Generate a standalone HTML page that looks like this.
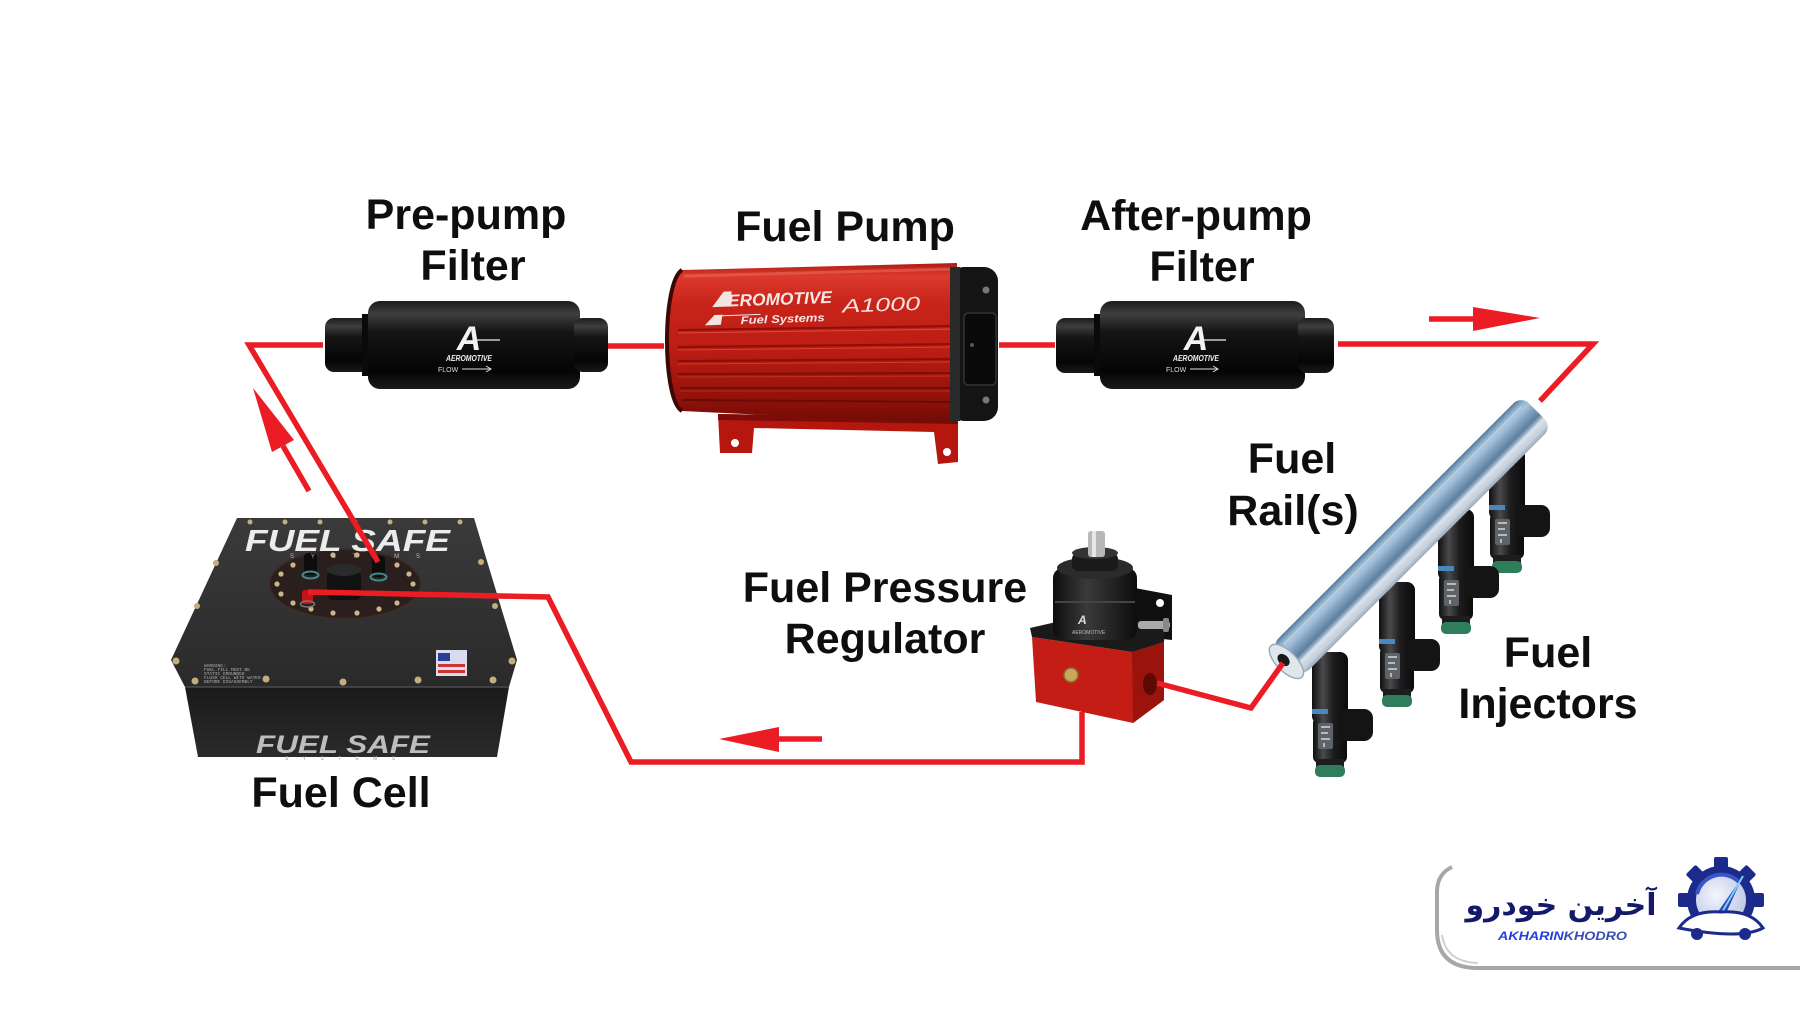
<!DOCTYPE html>
<html>
<head>
<meta charset="utf-8">
<style>
html,body{margin:0;padding:0;background:#fff;}
svg{display:block;}
.lbl{font-family:"Liberation Sans",Arial,sans-serif;font-weight:bold;font-size:43px;fill:#0e0e0e;text-anchor:middle;}
</style>
</head>
<body>
<svg width="1800" height="1013" viewBox="0 0 1800 1013" xmlns="http://www.w3.org/2000/svg">
<defs>
  <linearGradient id="blk" x1="0" y1="0" x2="0" y2="1">
    <stop offset="0" stop-color="#1c1c1c"/>
    <stop offset="0.15" stop-color="#3e3e3e"/>
    <stop offset="0.35" stop-color="#151515"/>
    <stop offset="0.8" stop-color="#050505"/>
    <stop offset="1" stop-color="#1a1a1a"/>
  </linearGradient>
  <linearGradient id="redB" x1="0" y1="0" x2="0" y2="1">
    <stop offset="0" stop-color="#b01a12"/>
    <stop offset="0.08" stop-color="#dc3a2c"/>
    <stop offset="0.25" stop-color="#c9241a"/>
    <stop offset="0.55" stop-color="#bb1c13"/>
    <stop offset="0.85" stop-color="#90110a"/>
    <stop offset="1" stop-color="#6e0b07"/>
  </linearGradient>
  <linearGradient id="tankTop" x1="0" y1="0" x2="0" y2="1">
    <stop offset="0" stop-color="#3a3a3a"/>
    <stop offset="1" stop-color="#2a2a2a"/>
  </linearGradient>
  <linearGradient id="tankFront" x1="0" y1="0" x2="0" y2="1">
    <stop offset="0" stop-color="#1a1a1a"/>
    <stop offset="1" stop-color="#2b2b2b"/>
  </linearGradient>
  <linearGradient id="injG" x1="0" y1="0" x2="1" y2="0">
    <stop offset="0" stop-color="#0f0f0f"/>
    <stop offset="0.3" stop-color="#4a4a4a"/>
    <stop offset="0.6" stop-color="#1c1c1c"/>
    <stop offset="1" stop-color="#0b0b0b"/>
  </linearGradient>
  <linearGradient id="railG" x1="0" y1="0" x2="0" y2="1">
    <stop offset="0" stop-color="#56779a"/>
    <stop offset="0.12" stop-color="#8fb0cc"/>
    <stop offset="0.25" stop-color="#a9c4dc"/>
    <stop offset="0.42" stop-color="#7f9fbf"/>
    <stop offset="0.6" stop-color="#5f7f9f"/>
    <stop offset="0.68" stop-color="#9fb4c8"/>
    <stop offset="0.73" stop-color="#dce4eb"/>
    <stop offset="0.9" stop-color="#c3cfda"/>
    <stop offset="1" stop-color="#94a8ba"/>
  </linearGradient>
  <linearGradient id="regTop" x1="0" y1="0" x2="1" y2="0">
    <stop offset="0" stop-color="#0d0d0d"/>
    <stop offset="0.4" stop-color="#3a3a3a"/>
    <stop offset="1" stop-color="#0d0d0d"/>
  </linearGradient>
  <radialGradient id="gaugeG" cx="0.4" cy="0.4" r="0.7">
    <stop offset="0" stop-color="#f4f6fc"/>
    <stop offset="1" stop-color="#b9c4e6"/>
  </radialGradient>
</defs>

<rect width="1800" height="1013" fill="#fff"/>

<!-- ========== LABELS ========== -->
<text class="lbl" x="466" y="229">Pre-pump</text>
<text class="lbl" x="473" y="280">Filter</text>
<text class="lbl" x="845" y="241">Fuel Pump</text>
<text class="lbl" x="1196" y="230">After-pump</text>
<text class="lbl" x="1202" y="281">Filter</text>
<text class="lbl" x="1292" y="473">Fuel</text>
<text class="lbl" x="1293" y="525">Rail(s)</text>
<text class="lbl" x="885" y="602">Fuel Pressure</text>
<text class="lbl" x="885" y="653">Regulator</text>
<text class="lbl" x="1548" y="667">Fuel</text>
<text class="lbl" x="1548" y="718">Injectors</text>
<text class="lbl" x="341" y="807">Fuel Cell</text>

<!-- ========== PRE-PUMP FILTER ========== -->
<g>
  <rect x="325" y="318" width="50" height="54" rx="9" fill="url(#blk)"/>
  <rect x="362" y="314" width="10" height="62" fill="#0a0a0a"/>
  <rect x="368" y="301" width="212" height="88" rx="12" fill="url(#blk)"/>
  <rect x="574" y="318" width="34" height="54" rx="9" fill="url(#blk)"/>
  <text x="469" y="350" font-family="Liberation Sans,Arial,sans-serif" font-weight="bold" font-style="italic" font-size="34" fill="#f2f2f2" text-anchor="middle">A</text>
  <line x1="474" y1="340" x2="500" y2="340" stroke="#eee" stroke-width="1.2"/>
  <text x="469" y="361" font-family="Liberation Sans,Arial,sans-serif" font-weight="bold" font-style="italic" font-size="8" fill="#f0f0f0" text-anchor="middle" textLength="46" lengthAdjust="spacingAndGlyphs">AEROMOTIVE</text>
  <text x="438" y="372" font-family="Liberation Sans,Arial,sans-serif" font-size="7" fill="#ddd">FLOW</text>
  <line x1="462" y1="369" x2="490" y2="369" stroke="#ddd" stroke-width="1"/>
  <path d="M486,366 L491,369 L486,372" fill="none" stroke="#ddd" stroke-width="1"/>
</g>

<!-- ========== AFTER-PUMP FILTER ========== -->
<g>
  <rect x="1056" y="318" width="50" height="55" rx="9" fill="url(#blk)"/>
  <rect x="1094" y="314" width="10" height="62" fill="#0a0a0a"/>
  <rect x="1100" y="301" width="205" height="88" rx="12" fill="url(#blk)"/>
  <rect x="1298" y="318" width="36" height="55" rx="9" fill="url(#blk)"/>
  <text x="1196" y="350" font-family="Liberation Sans,Arial,sans-serif" font-weight="bold" font-style="italic" font-size="34" fill="#f2f2f2" text-anchor="middle">A</text>
  <line x1="1201" y1="340" x2="1226" y2="340" stroke="#eee" stroke-width="1.2"/>
  <text x="1196" y="361" font-family="Liberation Sans,Arial,sans-serif" font-weight="bold" font-style="italic" font-size="8" fill="#f0f0f0" text-anchor="middle" textLength="46" lengthAdjust="spacingAndGlyphs">AEROMOTIVE</text>
  <text x="1166" y="372" font-family="Liberation Sans,Arial,sans-serif" font-size="7" fill="#ddd">FLOW</text>
  <line x1="1190" y1="369" x2="1217" y2="369" stroke="#ddd" stroke-width="1"/>
  <path d="M1213,366 L1218,369 L1213,372" fill="none" stroke="#ddd" stroke-width="1"/>
</g>

<!-- ========== FUEL PUMP ========== -->
<g>
  <path d="M718,414 L958,418 L958,462 L938,464 L934,432 L754,428 L752,453 L720,453 Z" fill="#b5170f"/>
  <path d="M718,414 L958,418 L958,424 L718,420 Z" fill="#7d0c07"/>
  <circle cx="735" cy="443" r="4" fill="#fff"/>
  <circle cx="947" cy="452" r="4" fill="#fff"/>
  <path d="M682,270 L957,263 L957,424 L682,411 C662,400 662,282 682,270 Z" fill="url(#redB)"/>
  <path d="M682,270 C662,282 662,400 682,411" fill="none" stroke="#3a0906" stroke-width="4"/>
  <g stroke-width="2" fill="none">
    <path d="M678,330 L957,326" stroke="#8c0f09"/>
    <path d="M678,333 L957,329" stroke="#e0483a" stroke-width="1"/>
    <path d="M678,347 L957,344" stroke="#8c0f09"/>
    <path d="M678,350 L957,347" stroke="#d8402f" stroke-width="1"/>
    <path d="M678,361 L957,359" stroke="#850e08"/>
    <path d="M678,364 L957,362" stroke="#cf3a2a" stroke-width="1"/>
    <path d="M678,374 L957,373" stroke="#7e0d08"/>
    <path d="M678,377 L957,376" stroke="#c3301f" stroke-width="1"/>
    <path d="M680,388 L957,388" stroke="#740b07"/>
    <path d="M680,391 L957,391" stroke="#b42a1c" stroke-width="1"/>
    <path d="M682,400 L957,402" stroke="#680a06"/>
  </g>
  <path d="M684,276 L955,269" stroke="#e9685a" stroke-width="3" opacity="0.6"/>
  <rect x="950" y="267" width="48" height="154" rx="14" fill="#141414"/>
  <rect x="950" y="267" width="10" height="154" fill="#2a2a2a"/>
  <rect x="964" y="313" width="32" height="72" rx="4" fill="#0a0a0a" stroke="#333" stroke-width="1.5"/>
  <circle cx="986" cy="290" r="3.5" fill="#777"/>
  <circle cx="986" cy="400" r="3.5" fill="#777"/>
  <circle cx="972" cy="345" r="2" fill="#555"/>
  <g transform="rotate(-2 800 300)" font-family="Liberation Sans,Arial,sans-serif" font-style="italic" font-weight="bold">
    <path d="M712,304 L724,289 L732,289 L730,304 Z" fill="#f3e4e1"/>
    <text x="728" y="304" font-size="17" fill="#f5e8e6" textLength="104" lengthAdjust="spacingAndGlyphs">EROMOTIVE</text>
    <path d="M704,322 L714,312 L722,312 L720,322 Z" fill="#f3e4e1"/>
    <line x1="718" y1="313" x2="760" y2="313" stroke="#f3e4e1" stroke-width="1"/>
    <text x="740" y="322" font-size="11" fill="#f5e8e6" textLength="84" lengthAdjust="spacingAndGlyphs">Fuel Systems</text>
    <text x="842" y="314" font-size="19" font-weight="normal" fill="#f7e1dd" textLength="78" lengthAdjust="spacingAndGlyphs">A1000</text>
  </g>
</g>

<!-- ========== FUEL CELL ========== -->
<g>
  <polygon points="237,518 474,518 517,660 509,687 185,687 171,660" fill="url(#tankTop)"/>
  <polygon points="185,687 509,687 497,757 198,757" fill="url(#tankFront)"/>
  <line x1="185" y1="687" x2="509" y2="687" stroke="#4a4a4a" stroke-width="1.5"/>
  <g fill="#c6ad7c">
    <circle cx="250" cy="522" r="2.5"/><circle cx="285" cy="522" r="2.5"/><circle cx="320" cy="522" r="2.5"/>
    <circle cx="355" cy="522" r="2.5"/><circle cx="390" cy="522" r="2.5"/><circle cx="425" cy="522" r="2.5"/><circle cx="460" cy="522" r="2.5"/>
    <circle cx="216" cy="563" r="3"/><circle cx="197" cy="606" r="3"/><circle cx="176" cy="661" r="3.5"/>
    <circle cx="481" cy="562" r="3"/><circle cx="495" cy="606" r="3"/><circle cx="512" cy="661" r="3.5"/>
    <circle cx="195" cy="681" r="3.5"/><circle cx="266" cy="679" r="3.5"/><circle cx="343" cy="682" r="3.5"/>
    <circle cx="418" cy="680" r="3.5"/><circle cx="493" cy="680" r="3.5"/>
  </g>
  <ellipse cx="345" cy="584" rx="76" ry="35" fill="#2a1f1d" stroke="#3d2d2a" stroke-width="2"/>
  <g fill="#cbb48a">
    <circle cx="413" cy="584" r="2.6"/><circle cx="409" cy="594" r="2.6"/><circle cx="397" cy="603" r="2.6"/>
    <circle cx="379" cy="609" r="2.6"/><circle cx="357" cy="613" r="2.6"/><circle cx="333" cy="613" r="2.6"/>
    <circle cx="311" cy="609" r="2.6"/><circle cx="293" cy="603" r="2.6"/><circle cx="281" cy="594" r="2.6"/>
    <circle cx="277" cy="584" r="2.6"/><circle cx="281" cy="574" r="2.6"/><circle cx="293" cy="565" r="2.6"/>
    <circle cx="311" cy="559" r="2.6"/><circle cx="333" cy="555" r="2.6"/><circle cx="357" cy="555" r="2.6"/>
    <circle cx="379" cy="559" r="2.6"/><circle cx="397" cy="565" r="2.6"/><circle cx="409" cy="574" r="2.6"/>
  </g>
  <rect x="304" y="553" width="13" height="22" rx="4" fill="#0c0c0c"/>
  <ellipse cx="310.5" cy="575" rx="8" ry="3.5" fill="none" stroke="#3f8c8c" stroke-width="2"/>
  <rect x="372" y="556" width="13" height="21" rx="4" fill="#0c0c0c"/>
  <ellipse cx="378.5" cy="577" rx="8" ry="3.5" fill="none" stroke="#3f8c8c" stroke-width="2"/>
  <rect x="327" y="570" width="34" height="30" rx="6" fill="#111"/>
  <ellipse cx="344" cy="570" rx="17" ry="6" fill="#2a2a2a"/>
  <rect x="302" y="590" width="11" height="14" rx="3" fill="#c0151a"/>
  <ellipse cx="307.5" cy="604" rx="7" ry="3" fill="none" stroke="#777" stroke-width="1.5"/>
  <text x="245" y="551" font-family="Liberation Sans,Arial,sans-serif" font-weight="bold" font-style="italic" font-size="31" fill="#ececec" textLength="205" lengthAdjust="spacingAndGlyphs">FUEL SAFE</text>
  <text x="290" y="558" font-family="Liberation Sans,Arial,sans-serif" font-size="6" fill="#bbb" textLength="130" lengthAdjust="spacing">SYSTEMS</text>
  <text x="256" y="753" font-family="Liberation Sans,Arial,sans-serif" font-weight="bold" font-style="italic" font-size="25" fill="#bdbdbd" textLength="174" lengthAdjust="spacingAndGlyphs">FUEL SAFE</text>
  <text x="285" y="760" font-family="Liberation Sans,Arial,sans-serif" font-size="5" fill="#999" textLength="110" lengthAdjust="spacing">SYSTEMS</text>
  <g font-family="Liberation Mono,monospace" font-size="4.5" fill="#b0b0b0">
    <text x="204" y="667">WARNING:</text>
    <text x="204" y="671">FUEL FILL MUST BE</text>
    <text x="204" y="675">STATIC GROUNDED</text>
    <text x="204" y="679">FLUSH CELL WITH WATER</text>
    <text x="204" y="683">BEFORE DISASSEMBLY</text>
  </g>
  <rect x="436" y="650" width="31" height="26" fill="#d9dcef"/>
  <rect x="438" y="653" width="12" height="8" fill="#2a3f9a"/>
  <rect x="438" y="664" width="27" height="3" fill="#c33"/>
  <rect x="438" y="670" width="27" height="3" fill="#c33"/>
</g>

<!-- ========== REGULATOR ========== -->
<g>
  <path d="M1135,588 L1172,595 L1172,640 L1135,636 Z" fill="#101010"/>
  <circle cx="1160" cy="603" r="4" fill="#fff"/>
  <polygon points="1032,637 1132,652 1164,642 1164,700 1133,723 1036,702" fill="#c41d15"/>
  <polygon points="1132,652 1164,642 1164,700 1133,723" fill="#9a130d"/>
  <ellipse cx="1150" cy="684" rx="7" ry="11" fill="#5e0906"/>
  <circle cx="1071" cy="675" r="7" fill="#c7a85a" stroke="#8a6f30" stroke-width="1.5"/>
  <polygon points="1030,628 1100,612 1165,628 1164,642 1132,652 1032,637" fill="#1a1a1a"/>
  <rect x="1053" y="568" width="84" height="72" rx="10" fill="url(#regTop)"/>
  <line x1="1055" y1="602" x2="1135" y2="602" stroke="#444" stroke-width="2"/>
  <ellipse cx="1095" cy="568" rx="38" ry="11" fill="#2b2b2b"/>
  <rect x="1072" y="553" width="46" height="18" rx="6" fill="#1a1a1a"/>
  <ellipse cx="1095" cy="553" rx="23" ry="6" fill="#333"/>
  <rect x="1088" y="531" width="17" height="26" rx="3" fill="#b8b8b8"/>
  <rect x="1092" y="531" width="4" height="26" fill="#e6e6e6"/>
  <rect x="1138" y="621" width="32" height="8" rx="3" fill="#aaa"/>
  <rect x="1163" y="618" width="6" height="14" rx="2" fill="#888"/>
  <text x="1078" y="624" font-family="Liberation Sans,Arial,sans-serif" font-weight="bold" font-style="italic" font-size="12" fill="#ddd">A</text>
  <text x="1072" y="634" font-family="Liberation Sans,Arial,sans-serif" font-size="5" fill="#bbb">AEROMOTIVE</text>
</g>

<!-- ========== INJECTORS ========== -->
<g>
  <g transform="translate(1507,573)">
    <rect x="-18" y="-125" width="36" height="72" rx="8" fill="url(#injG)"/>
    <rect x="-18" y="-68" width="16" height="5" fill="#4a86c0"/>
    <rect x="-17" y="-60" width="34" height="46" rx="6" fill="url(#injG)"/>
    <rect x="-12" y="-54" width="15" height="26" rx="2" fill="#5e6369"/>
    <path d="M-9,-50 L0,-50 M-9,-44 L-2,-44 M-9,-38 L0,-38 M-6,-34 L-6,-30" stroke="#d6d6d6" stroke-width="1.5"/>
    <rect x="8" y="-68" width="35" height="32" rx="9" fill="#141414"/>
    <rect x="-14" y="-18" width="28" height="8" fill="#1d1d1d"/>
    <rect x="-15" y="-12" width="30" height="12" rx="5" fill="#2e7d5b"/>
  </g>
  <g transform="translate(1456,634)">
    <rect x="-18" y="-125" width="36" height="72" rx="8" fill="url(#injG)"/>
    <rect x="-18" y="-68" width="16" height="5" fill="#4a86c0"/>
    <rect x="-17" y="-60" width="34" height="46" rx="6" fill="url(#injG)"/>
    <rect x="-12" y="-54" width="15" height="26" rx="2" fill="#5e6369"/>
    <path d="M-9,-50 L0,-50 M-9,-44 L-2,-44 M-9,-38 L0,-38 M-6,-34 L-6,-30" stroke="#d6d6d6" stroke-width="1.5"/>
    <rect x="8" y="-68" width="35" height="32" rx="9" fill="#141414"/>
    <rect x="-14" y="-18" width="28" height="8" fill="#1d1d1d"/>
    <rect x="-15" y="-12" width="30" height="12" rx="5" fill="#2e7d5b"/>
  </g>
  <g transform="translate(1397,707)">
    <rect x="-18" y="-125" width="36" height="72" rx="8" fill="url(#injG)"/>
    <rect x="-18" y="-68" width="16" height="5" fill="#4a86c0"/>
    <rect x="-17" y="-60" width="34" height="46" rx="6" fill="url(#injG)"/>
    <rect x="-12" y="-54" width="15" height="26" rx="2" fill="#5e6369"/>
    <path d="M-9,-50 L0,-50 M-9,-44 L-2,-44 M-9,-38 L0,-38 M-6,-34 L-6,-30" stroke="#d6d6d6" stroke-width="1.5"/>
    <rect x="8" y="-68" width="35" height="32" rx="9" fill="#141414"/>
    <rect x="-14" y="-18" width="28" height="8" fill="#1d1d1d"/>
    <rect x="-15" y="-12" width="30" height="12" rx="5" fill="#2e7d5b"/>
  </g>
  <g transform="translate(1330,777)">
    <rect x="-18" y="-125" width="36" height="72" rx="8" fill="url(#injG)"/>
    <rect x="-18" y="-68" width="16" height="5" fill="#4a86c0"/>
    <rect x="-17" y="-60" width="34" height="46" rx="6" fill="url(#injG)"/>
    <rect x="-12" y="-54" width="15" height="26" rx="2" fill="#5e6369"/>
    <path d="M-9,-50 L0,-50 M-9,-44 L-2,-44 M-9,-38 L0,-38 M-6,-34 L-6,-30" stroke="#d6d6d6" stroke-width="1.5"/>
    <rect x="8" y="-68" width="35" height="32" rx="9" fill="#141414"/>
    <rect x="-14" y="-18" width="28" height="8" fill="#1d1d1d"/>
    <rect x="-15" y="-12" width="30" height="12" rx="5" fill="#2e7d5b"/>
  </g>
</g>

<!-- ========== FUEL RAIL ========== -->
<g transform="translate(1285,660) rotate(-45)">
  <rect x="0" y="-20" width="354" height="44" rx="11" fill="url(#railG)"/>
  <line x1="10" y1="-12" x2="346" y2="-12" stroke="#c3d7ea" stroke-width="2" opacity="0.7"/>
  <ellipse cx="0" cy="2" rx="10" ry="22" fill="#dfe6ec" stroke="#9aaabb" stroke-width="1.5"/>
  <ellipse cx="-1" cy="-1" rx="5" ry="7" fill="#161a1f"/>
</g>

<!-- ========== RED FLOW LINES ========== -->
<g fill="none" stroke="#ec1c24" stroke-width="5.5" stroke-linejoin="miter">
  <path d="M323,345 L249,345 L378,562"/>
  <path d="M608,346 L664,346"/>
  <path d="M999,345 L1055,345"/>
  <path d="M1338,344 L1593,344 L1540,401"/>
  <path d="M308,592 L548,597 L631,762 L1082,762 L1082,712"/>
  <path d="M1157,683 L1251,708 L1283,663"/>
  <path d="M1429,319 L1477,319"/>
  <path d="M776,739 L822,739"/>
  <path d="M283,446 L309,491"/>
</g>
<g fill="#ec1c24">
  <polygon points="1473,307 1540,318 1473,331"/>
  <polygon points="719,739 779,727 779,752"/>
  <polygon points="253,388 294,440 272,452"/>
</g>

<!-- ========== LOGO ========== -->
<g>
  <path d="M1800,866 L1470,866 Q1437,868 1437,900 L1437,930 Q1437,968 1478,968 L1800,968 Z" fill="#fff"/>
  <path d="M1452,867 Q1437,874 1437,892 L1437,930 Q1437,968 1478,968 L1800,968" fill="none" stroke="#a7a7a7" stroke-width="4"/>
  <path d="M1442,935 Q1446,962 1478,963" fill="none" stroke="#d0d0d0" stroke-width="2"/>
  <text x="1561" y="915" direction="rtl" text-anchor="middle" font-family="DejaVu Sans,sans-serif" font-weight="bold" font-size="30" fill="#15196a">آخرین خودرو</text>
  <text x="1498" y="940" font-family="Liberation Sans,Arial,sans-serif" font-weight="bold" font-style="italic" font-size="12" textLength="129" lengthAdjust="spacingAndGlyphs"><tspan fill="#2340e0">AKHARIN</tspan><tspan fill="#3a4cb4">KHODRO</tspan></text>
  <g transform="translate(1721,900)">
    <g fill="#1c2a8c">
      <circle r="34"/>
      <rect x="-7" y="-43" width="14" height="14" rx="2"/>
      <rect x="-7" y="-43" width="14" height="14" rx="2" transform="rotate(45)"/>
      <rect x="-7" y="-43" width="14" height="14" rx="2" transform="rotate(90)"/>
      <rect x="-7" y="-43" width="14" height="14" rx="2" transform="rotate(135)"/>
      <rect x="-7" y="-43" width="14" height="14" rx="2" transform="rotate(225)"/>
      <rect x="-7" y="-43" width="14" height="14" rx="2" transform="rotate(270)"/>
      <rect x="-7" y="-43" width="14" height="14" rx="2" transform="rotate(315)"/>
    </g>
    <circle r="25" fill="url(#gaugeG)"/>
    <path d="M-24,-6 A25,25 0 0 1 18,-18" fill="none" stroke="#3b54c8" stroke-width="4"/>
    <path d="M-6,16 L22,-24 L2,20 Z" fill="#2a48c0"/>
    <path d="M0,14 L22,-24" stroke="#7fd0f5" stroke-width="2"/>
    <path d="M-42,28 Q-30,10 0,12 Q30,10 42,28 Q20,40 -42,28 Z" fill="#fff" stroke="#1c2a8c" stroke-width="3"/>
    <circle cx="-24" cy="34" r="6" fill="#1c2a8c"/>
    <circle cx="24" cy="34" r="6" fill="#1c2a8c"/>
  </g>
</g>
</svg>
</body>
</html>
